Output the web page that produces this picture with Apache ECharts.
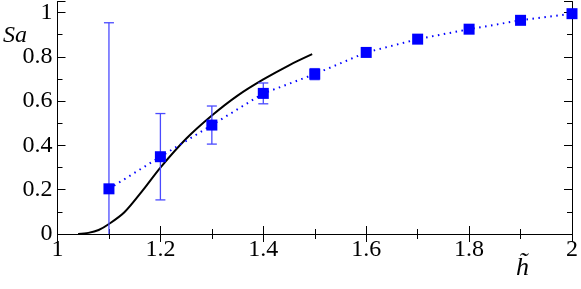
<!DOCTYPE html>
<html><head><meta charset="utf-8">
<script src="https://cdn.jsdelivr.net/npm/echarts@6/dist/echarts.min.js"></script>
<style>html,body{margin:0;padding:0;background:#fff}#c{width:581px;height:289px}</style>
</head><body><div id="c"></div>
<script>
// Simulation data (squares with error bars)
const xData = [1.1, 1.2, 1.3, 1.4, 1.5, 1.6, 1.7, 1.8, 1.9, 2.0];
const yData = [0.204, 0.349, 0.492, 0.635, 0.722, 0.82, 0.88, 0.925, 0.965, 0.995];
const yErr  = [0.75, 0.195, 0.086, 0.047, 0.025, 0, 0, 0, 0, 0];
// Theory curve (black)
const curveX = [1.04, 1.06, 1.08, 1.10, 1.13, 1.166, 1.20, 1.25, 1.30, 1.35, 1.40, 1.45, 1.495];
const curveY = [0.0, 0.005, 0.018, 0.045, 0.098, 0.198, 0.30, 0.43, 0.535, 0.625, 0.698, 0.762, 0.812];
const xTicks = [1, 1.2, 1.4, 1.6, 1.8, 2];
const yTicks = [0, 0.2, 0.4, 0.6, 0.8, 1];

const isTick = (v, arr) => arr.some(t => Math.abs(t - v) < 1e-6);
function mkAxis(type, pos, min, max, ticks, showLabel) {
  return {
    type: 'value', min: min, max: max, interval: 0.2, position: pos,
    axisLine: {show: true, lineStyle: {color: '#000', width: 1}},
    axisTick: {show: true, inside: true, length: 8, lineStyle: {color: '#000'}},
    minorTick: {show: true, splitNumber: 2, length: 5, lineStyle: {color: '#000'}},
    splitLine: {show: false}, minorSplitLine: {show: false},
    axisLabel: {show: showLabel, fontFamily: 'Liberation Serif', fontSize: 24, color: '#000',
      margin: type === 'x' ? 4 : 5,
      formatter: v => isTick(v, ticks) ? String(+v.toFixed(1)) : ''}
  };
}
const chart = echarts.init(document.getElementById('c'));
chart.setOption({
  animation: false,
  grid: {left: 57.5, right: 7.5, top: 1.5, bottom: 55},
  xAxis: [mkAxis('x', 'bottom', 1, 2, xTicks, true), mkAxis('x', 'top', 1, 2, xTicks, false)],
  yAxis: [mkAxis('y', 'left', 0, 1.05, yTicks, true), mkAxis('y', 'right', 0, 1.05, yTicks, false)],
  graphic: [
    {type: 'text', left: 3, top: 24, style: {text: 'Sa', fontFamily: 'Liberation Serif', fontStyle: 'italic', fontSize: 24, fill: '#000'}},
    {type: 'text', left: 516, top: 255, style: {text: 'h\u0303', fontFamily: 'Liberation Serif', fontStyle: 'italic', fontSize: 26, fill: '#000'}}
  ],
  series: [
    {type: 'line', data: curveX.map((x, i) => [x, curveY[i]]), smooth: 0.3, showSymbol: false,
      lineStyle: {color: '#000', width: 2}, z: 3},
    {type: 'custom', z: 4, data: xData.map((x, i) => [x, yData[i], yErr[i]]),
      renderItem: (params, api) => {
        const x = api.value(0), y = api.value(1), e = api.value(2);
        if (!e) return null;
        const lo = Math.max(y - e, 0), hi = y + e;
        const pLo = api.coord([x, lo]), pHi = api.coord([x, hi]);
        const w = 5, st = {stroke: '#4a4aff', lineWidth: 1.3};
        const ch = [{type: 'line', shape: {x1: pLo[0], y1: pLo[1], x2: pHi[0], y2: pHi[1]}, style: st},
                    {type: 'line', shape: {x1: pHi[0]-w, y1: pHi[1], x2: pHi[0]+w, y2: pHi[1]}, style: st}];
        if (y - e >= 0) ch.push({type: 'line', shape: {x1: pLo[0]-w, y1: pLo[1], x2: pLo[0]+w, y2: pLo[1]}, style: st});
        return {type: 'group', children: ch};
      }},
    {type: 'line', data: xData.map((x, i) => [x, yData[i]]), symbol: 'rect', symbolSize: 11,
      itemStyle: {color: '#0000ff'}, lineStyle: {color: '#0000ff', width: 2, type: [1.5, 4.5]}, z: 5}
  ]
});
</script></body></html>
